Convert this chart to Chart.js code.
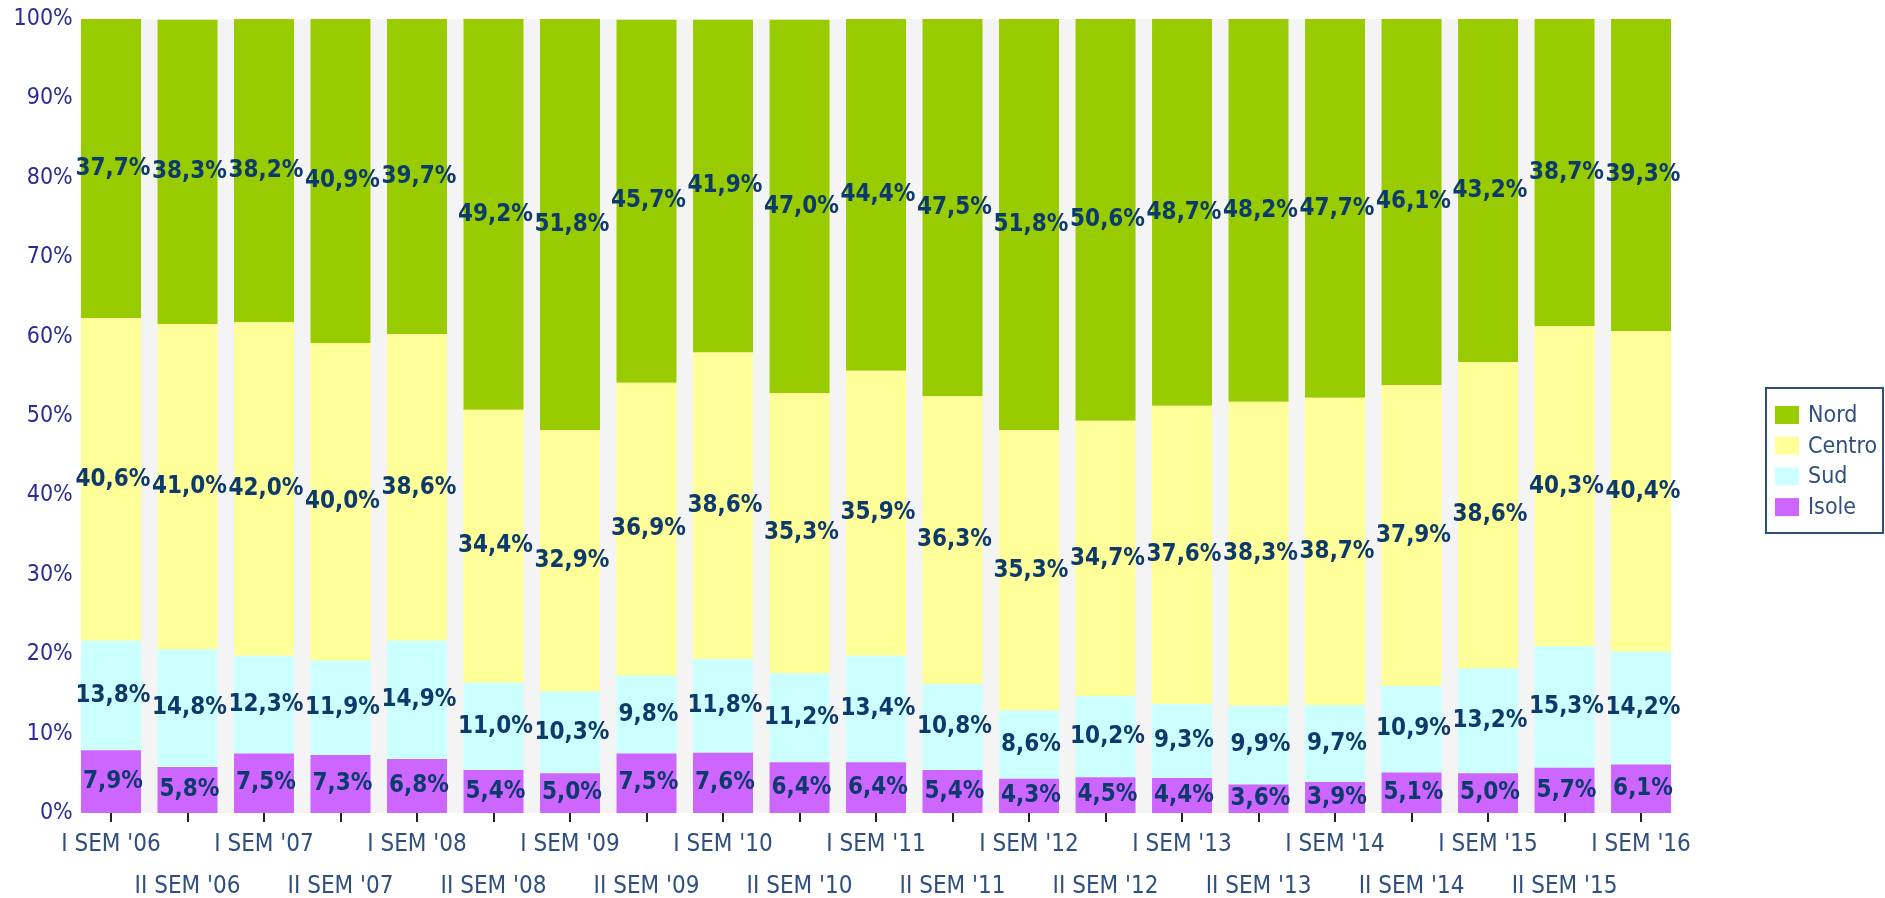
<!DOCTYPE html>
<html>
<head>
<meta charset="utf-8">
<script src="https://cdn.jsdelivr.net/npm/chart.js@4/dist/chart.umd.min.js"></script>
<style>
html,body{margin:0;padding:0;background:#fff;}
#wrap{width:1885px;height:898px;}
</style>
</head>
<body>
<div id="wrap"><canvas id="c" width="1885" height="898"></canvas></div>
<script>
const categories = ["I SEM '06","II SEM '06","I SEM '07","II SEM '07","I SEM '08","II SEM '08","I SEM '09","II SEM '09","I SEM '10","II SEM '10","I SEM '11","II SEM '11","I SEM '12","II SEM '12","I SEM '13","II SEM '13","I SEM '14","II SEM '14","I SEM '15","II SEM '15","I SEM '16"];
const nord   = [37.7,38.3,38.2,40.9,39.7,49.2,51.8,45.7,41.9,47.0,44.4,47.5,51.8,50.6,48.7,48.2,47.7,46.1,43.2,38.7,39.3];
const centro = [40.6,41.0,42.0,40.0,38.6,34.4,32.9,36.9,38.6,35.3,35.9,36.3,35.3,34.7,37.6,38.3,38.7,37.9,38.6,40.3,40.4];
const sud    = [13.8,14.8,12.3,11.9,14.9,11.0,10.3,9.8,11.8,11.2,13.4,10.8,8.6,10.2,9.3,9.9,9.7,10.9,13.2,15.3,14.2];
const isole  = [7.9,5.8,7.5,7.3,6.8,5.4,5.0,7.5,7.6,6.4,6.4,5.4,4.3,4.5,4.4,3.6,3.9,5.1,5.0,5.7,6.1];
const yTickValues = [0,10,20,30,40,50,60,70,80,90,100];

const FONT = "'DejaVu Sans Condensed','DejaVu Sans',sans-serif";
const fmt = v => v.toFixed(1).replace('.', ',') + '%';

const plotBg = {
  id: 'plotBg',
  beforeDatasetsDraw(chart) {
    const meta = chart.getDatasetMeta(0);
    const first = meta.data[0], last = meta.data[meta.data.length - 1];
    const a = chart.chartArea;
    const l = first.x - first.width / 2, r = last.x + last.width / 2;
    const ctx = chart.ctx;
    ctx.save();
    ctx.fillStyle = '#f4f4f4';
    ctx.fillRect(l, a.top, r - l, a.bottom - a.top);
    ctx.restore();
  }
};

const valueLabels = {
  id: 'valueLabels',
  afterDatasetsDraw(chart) {
    const ctx = chart.ctx;
    ctx.save();
    ctx.font = "bold 24px " + FONT;
    ctx.fillStyle = '#0d3a6c';
    ctx.textAlign = 'center';
    ctx.textBaseline = 'middle';
    chart.data.datasets.forEach((ds, di) => {
      const meta = chart.getDatasetMeta(di);
      meta.data.forEach((el, i) => {
        const y = (el.y + el.base) / 2;
        ctx.fillText(fmt(ds.data[i]), el.x + 2, y);
      });
    });
    ctx.restore();
  }
};

const boxLegend = {
  id: 'boxLegend',
  afterDraw(chart) {
    const ctx = chart.ctx;
    const ds = chart.data.datasets.slice().reverse();
    ctx.save();
    ctx.strokeStyle = '#2d4f7c';
    ctx.lineWidth = 2;
    ctx.strokeRect(1766, 388, 117, 145);
    ctx.font = "23px " + FONT;
    ctx.textAlign = 'left';
    ctx.textBaseline = 'middle';
    ds.forEach((d, i) => {
      const cy = 415 + i * 30.7;
      ctx.fillStyle = d.backgroundColor;
      ctx.fillRect(1775, cy - 9, 24, 18);
      ctx.fillStyle = '#2f4f7f';
      ctx.fillText(d.label, 1808, cy + 1);
    });
    ctx.restore();
  }
};

new Chart(document.getElementById('c'), {
  type: 'bar',
  data: {
    labels: categories,
    datasets: [
      { label: 'Isole',  data: isole,  backgroundColor: '#cc66ff' },
      { label: 'Sud',    data: sud,    backgroundColor: '#ccffff' },
      { label: 'Centro', data: centro, backgroundColor: '#ffff99' },
      { label: 'Nord',   data: nord,   backgroundColor: '#99cc00' }
    ]
  },
  options: {
    responsive: false,
    animation: false,
    devicePixelRatio: 1,
    layout: { padding: { top: 19, right: 205.7, left: 0, bottom: 0 } },
    datasets: { bar: { barPercentage: 0.784, categoryPercentage: 1, borderWidth: 0 } },
    plugins: { legend: { display: false }, tooltip: { enabled: false } },
    scales: {
      x: {
        stacked: true,
        offset: true,
        border: { display: false },
        grid: { offset: false, drawOnChartArea: false, drawTicks: true, tickLength: 9, color: '#222', lineWidth: 2 },
        ticks: {
          autoSkip: false, maxRotation: 0, minRotation: 0, padding: 2,
          color: '#2f4f7f',
          font: { family: FONT, size: 24, lineHeight: '42px' },
          callback: function(v, i) { const s = categories[i]; return i % 2 === 0 ? [s, ''] : ['', s]; }
        },
        afterFit: s => { s.height = 85; }
      },
      y: {
        stacked: true,
        min: 0, max: 100,
        border: { display: false },
        grid: { display: false, drawTicks: false },
        afterBuildTicks: s => { s.ticks = yTickValues.map(v => ({ value: v })); },
        ticks: {
          padding: 0,
          color: '#2b2b96',
          font: { family: FONT, size: 23 },
          callback: v => v + '%'
        },
        afterFit: s => { s.width = 72.75; }
      }
    }
  },
  plugins: [plotBg, valueLabels, boxLegend]
});
</script>
</body>
</html>
